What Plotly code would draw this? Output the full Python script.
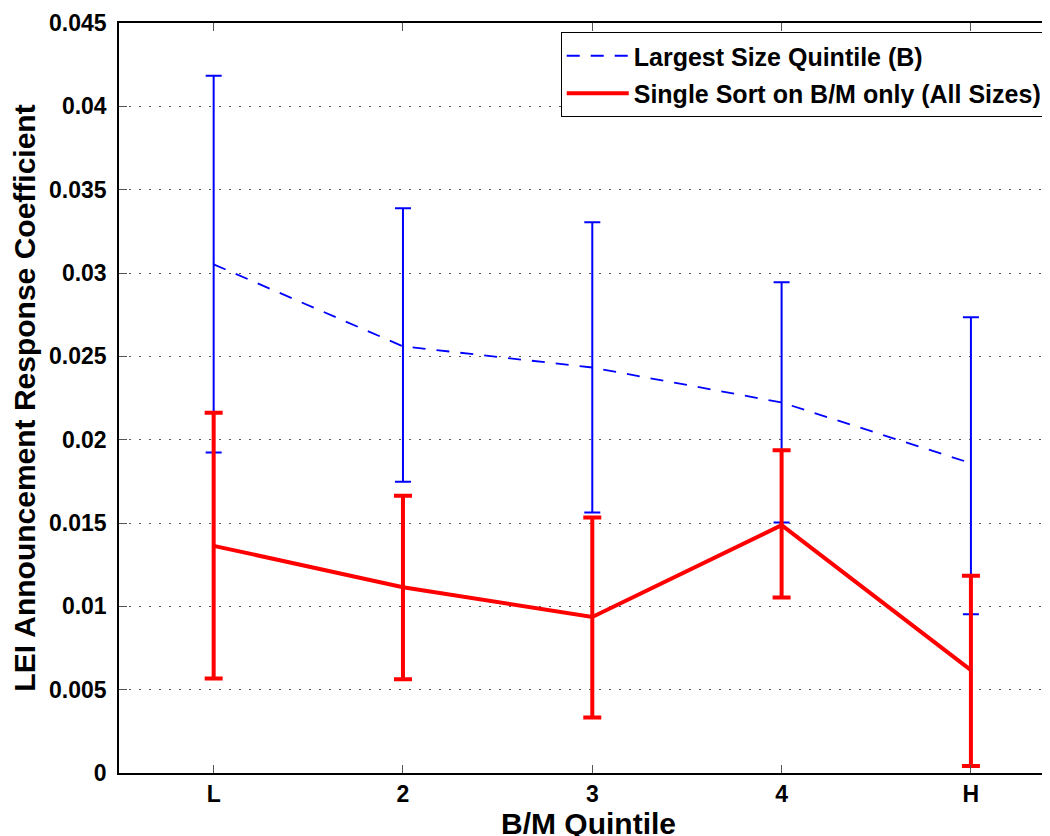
import plotly.graph_objects as go

categories = ["L", "2", "3", "4", "H"]

# Largest Size Quintile (B)
large_mean = [0.03052, 0.02560, 0.02433, 0.02223, 0.01859]
large_hi = [0.04184, 0.03388, 0.03304, 0.02944, 0.02734]
large_lo = [0.01923, 0.01747, 0.01563, 0.01503, 0.00953]

# Single Sort on B/M only (All Sizes)
single_mean = [0.01363, 0.01115, 0.00936, 0.01487, 0.00617]
single_hi = [0.02161, 0.01663, 0.01533, 0.01937, 0.01183]
single_lo = [0.00567, 0.00562, 0.00333, 0.01053, 0.00042]

y_ticks = [0, 0.005, 0.01, 0.015, 0.02, 0.025, 0.03, 0.035, 0.04, 0.045]
y_ticktext = ["0", "0.005", "0.01", "0.015", "0.02", "0.025", "0.03", "0.035", "0.04", "0.045"]

def plus(hi, m):
    return [h - v for h, v in zip(hi, m)]

def minus(lo, m):
    return [v - l for l, v in zip(lo, m)]

FONT = "Liberation Sans, Arial, sans-serif"

fig = go.Figure()
fig.add_trace(go.Scatter(
    x=categories, y=large_mean, mode="lines",
    name="Largest Size Quintile (B)", legendgroup="a",
    line=dict(color="#0000ff", width=1.8, dash="13px,11px"),
    error_y=dict(type="data", symmetric=False,
                 array=plus(large_hi, large_mean),
                 arrayminus=minus(large_lo, large_mean),
                 color="#0000ff", thickness=2, width=8),
))
fig.add_trace(go.Scatter(
    x=categories, y=single_mean, mode="lines",
    name="Single Sort on B/M only (All Sizes)", legendgroup="b",
    line=dict(color="#ff0000", width=4),
    error_y=dict(type="data", symmetric=False,
                 array=plus(single_hi, single_mean),
                 arrayminus=minus(single_lo, single_mean),
                 color="#ff0000", thickness=4, width=9),
))

fig.update_layout(
    width=1050, height=836,
    margin=dict(l=111, r=0, t=15, b=71, autoexpand=False),
    paper_bgcolor="white", plot_bgcolor="white",
    font=dict(family=FONT, color="black", size=23),
    showlegend=True,
    legend=dict(
        x=0.988, y=0.988, xanchor="right", yanchor="top",
        bgcolor="white", bordercolor="black", borderwidth=1,
        font=dict(family=FONT, size=25, color="black", weight="bold"),
        itemwidth=62, tracegroupgap=2,
    ),
    xaxis=dict(
        type="category", range=[-0.5, 4.46],
        showline=True, linecolor="black", linewidth=1.5, mirror="ticks",
        ticks="inside", ticklen=8, tickcolor="#555",
        showgrid=False, zeroline=False,
        tickfont=dict(family=FONT, size=23, color="black", weight="bold"),
        title=dict(text="B/M Quintile", standoff=0,
                   font=dict(family=FONT, size=30, color="black", weight="bold")),
    ),
    yaxis=dict(
        range=[0, 0.045], tickvals=y_ticks, ticktext=y_ticktext,
        showline=True, linecolor="black", linewidth=1.5, mirror="ticks",
        ticks="inside", ticklen=8, tickcolor="#555",
        showgrid=True, gridcolor="#555", griddash="2px,8px", gridwidth=1,
        zeroline=False, ticklabelstandoff=6,
        tickfont=dict(family=FONT, size=23, color="black", weight="bold"),
        title=dict(text="LEI Announcement Response Coefficient", standoff=8,
                   font=dict(family=FONT, size=30, color="black", weight="bold")),
    ),
)

fig.write_html("out.html")
